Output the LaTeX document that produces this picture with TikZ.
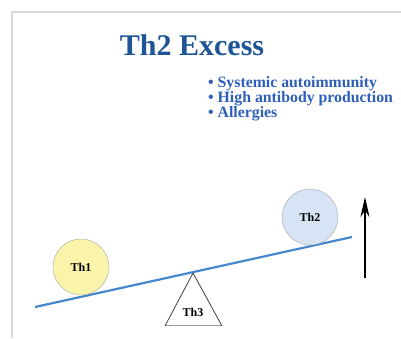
\documentclass[tikz,border=0pt]{standalone}
\usepackage{fontspec}
\setmainfont{Liberation Serif}
\usepackage{tikz}
\usetikzlibrary{positioning, arrows.meta}

\definecolor{titleblue}{RGB}{30,85,150}
\definecolor{listblue}{RGB}{45,95,185}
\definecolor{beamblue}{RGB}{70,135,205}
\definecolor{frameg}{RGB}{218,218,218}
\definecolor{ballyel}{RGB}{250,244,170}
\definecolor{ballblu}{RGB}{214,228,246}

\begin{document}
\begin{tikzpicture}[
    x=1pt, y=-1pt, >={Stealth[length=20pt, width=9pt]},
    ball/.style={draw=gray!70, circle, minimum size=56pt, inner sep=0pt, font=\bfseries\fontsize{12}{12}\selectfont},
    bullet/.style={text=listblue, font=\bfseries\fontsize{15.8}{16}\selectfont, anchor=base west, inner sep=0pt}
]
\useasboundingbox (0,0) rectangle (401,338);

% Cornice
\draw[frameg, line width=2pt] (12,338) -- (12,12) -- (401,12);

% Titolo ed elenco
\node[text=titleblue, font=\bfseries\fontsize{30}{30}\selectfont, anchor=base] (title) at (192,55) {Th2 Excess};
\node[bullet] (b1) at (208,87) {\textbullet\ Systemic autoimmunity};
\node[bullet] (b2) at (208,102) {\textbullet\ High antibody production};
\node[bullet] (b3) at (208,117) {\textbullet\ Allergies};

% Altalena
\coordinate (beamL) at (35,307);
\coordinate (beamR) at (352,237);
\draw[beamblue, line width=2.2pt] (beamL) -- (beamR);

% Fulcro
\coordinate (apex) at (193,273);
\draw[black!40, line width=0.6pt] (165,325) -- (222,325);
\draw[black!75, line width=0.8pt] (165,326) -- (apex) -- (222,326);
\node[font=\bfseries\fontsize{12}{12}\selectfont] (th3) at (193,312) {Th3};

% Palline
\node[ball, fill=ballyel] (th1) at (81,267) {Th1};
\node[ball, fill=ballblu] (th2) at (310,217) {Th2};

% Freccia verso l'alto
\coordinate (arrLow) at (365,278);
\coordinate (arrTop) at (365,197);
\draw[->, line width=1.2pt] (arrLow) -- (arrTop);

\end{tikzpicture}
\end{document}
